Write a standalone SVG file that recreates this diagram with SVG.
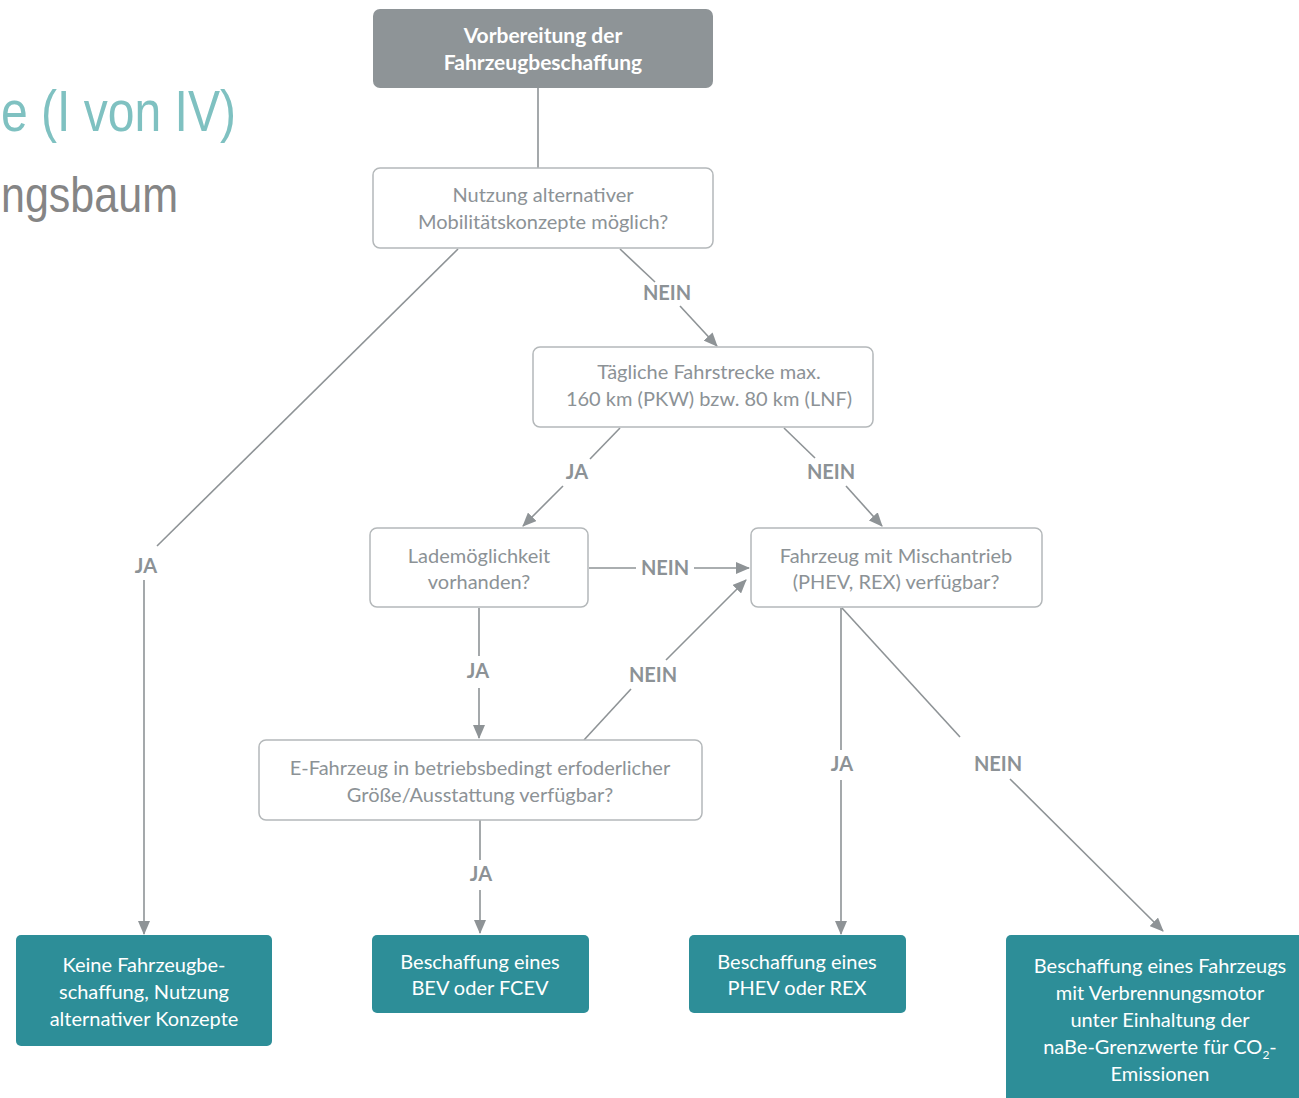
<svg xmlns="http://www.w3.org/2000/svg" width="1299" height="1098" viewBox="0 0 1299 1098">
<style>
.q rect{fill:#fff;stroke:#b4b8ba;stroke-width:1.5}
.q text{fill:#8c9296;font-family:Lato,"Open Sans",sans-serif;font-size:20px;text-anchor:middle}
.t rect{fill:#2d8e98}
.t text{fill:#fff;font-family:Lato,"Open Sans",sans-serif;font-size:20px;text-anchor:middle}
.c line,.c path{stroke:#8e9396;stroke-width:1.6;fill:none}
.c text{fill:#8c9296;font-family:Lato,"Open Sans",sans-serif;font-size:20px;font-weight:bold;text-anchor:middle}
</style>
<defs>
<marker id="a" viewBox="0 0 14 12" refX="13" refY="6" markerWidth="14" markerHeight="12" markerUnits="userSpaceOnUse" orient="auto">
<path d="M0,0 L14,6 L0,12 Z" fill="#8e9396"/>
</marker>
</defs>
<rect width="1299" height="1098" fill="#fff"/>
<g id="title">
<text x="1" y="131" font-family="'Liberation Sans',sans-serif" font-size="58" fill="#7fc1c1" textLength="235" lengthAdjust="spacingAndGlyphs">e (I von IV)</text>
<text x="1" y="212" font-family="'Liberation Sans',sans-serif" font-size="50" fill="#858585" textLength="177" lengthAdjust="spacingAndGlyphs">ngsbaum</text>
</g>
<g id="connectors" class="c">
<line x1="538" y1="88" x2="538" y2="168"/>
<line x1="458" y1="249" x2="157" y2="546"/>
<text x="146" y="573">JA</text>
<line x1="144" y1="580" x2="144" y2="934" marker-end="url(#a)"/>
<line x1="620" y1="249" x2="655" y2="282"/>
<text x="667" y="300">NEIN</text>
<line x1="680" y1="306" x2="717" y2="346" marker-end="url(#a)"/>
<line x1="620" y1="428" x2="590" y2="459"/>
<text x="577" y="479">JA</text>
<line x1="563" y1="486" x2="523" y2="526" marker-end="url(#a)"/>
<line x1="784" y1="428" x2="815" y2="458"/>
<text x="831" y="479">NEIN</text>
<line x1="846" y1="486" x2="882" y2="526" marker-end="url(#a)"/>
<line x1="589" y1="568" x2="636" y2="568"/>
<text x="665" y="575">NEIN</text>
<line x1="694" y1="568" x2="749" y2="568" marker-end="url(#a)"/>
<line x1="479" y1="608" x2="479" y2="656"/>
<text x="478" y="678">JA</text>
<line x1="479" y1="688" x2="479" y2="738" marker-end="url(#a)"/>
<line x1="584" y1="740" x2="631" y2="689"/>
<text x="653" y="682">NEIN</text>
<line x1="666" y1="660" x2="746" y2="580" marker-end="url(#a)"/>
<line x1="480" y1="820" x2="480" y2="860"/>
<text x="481" y="881">JA</text>
<line x1="480" y1="890" x2="480" y2="933" marker-end="url(#a)"/>
<line x1="841" y1="608" x2="841" y2="750"/>
<text x="842" y="771">JA</text>
<line x1="841" y1="780" x2="841" y2="934" marker-end="url(#a)"/>
<line x1="842" y1="608" x2="960" y2="737"/>
<text x="998" y="771">NEIN</text>
<line x1="1010" y1="779" x2="1163" y2="931" marker-end="url(#a)"/>
</g>
<g id="n1">
<rect x="373" y="9" width="340" height="79" rx="7" fill="#8e9497"/>
<text x="543" y="43" fill="#fff" font-family="Lato,'Open Sans',sans-serif" font-size="21" font-weight="bold" text-anchor="middle">Vorbereitung der</text>
<text x="543" y="70" fill="#fff" font-family="Lato,'Open Sans',sans-serif" font-size="21" font-weight="bold" text-anchor="middle">Fahrzeugbeschaffung</text>
</g>
<g id="n2" class="q">
<rect x="373" y="168" width="340" height="80" rx="7"/>
<text x="543" y="202">Nutzung alternativer</text>
<text x="543" y="229">Mobilitätskonzepte möglich?</text>
</g>
<g id="n3" class="q">
<rect x="533" y="347" width="340" height="80" rx="7"/>
<text x="709" y="379">Tägliche Fahrstrecke max.</text>
<text x="709" y="406">160 km (PKW) bzw. 80 km (LNF)</text>
</g>
<g id="n4" class="q">
<rect x="370" y="528" width="218" height="79" rx="7"/>
<text x="479" y="563">Lademöglichkeit</text>
<text x="479" y="589">vorhanden?</text>
</g>
<g id="n5" class="q">
<rect x="751" y="528" width="291" height="79" rx="7"/>
<text x="896" y="563">Fahrzeug mit Mischantrieb</text>
<text x="896" y="589">(PHEV, REX) verfügbar?</text>
</g>
<g id="n6" class="q">
<rect x="259" y="740" width="443" height="80" rx="7"/>
<text x="480" y="775">E-Fahrzeug in betriebsbedingt erfoderlicher</text>
<text x="480" y="802">Größe/Ausstattung verfügbar?</text>
</g>
<g id="n7" class="t">
<rect x="16" y="935" width="256" height="111" rx="5"/>
<text x="144" y="972">Keine Fahrzeugbe-</text>
<text x="144" y="999">schaffung, Nutzung</text>
<text x="144" y="1026">alternativer Konzepte</text>
</g>
<g id="n8" class="t">
<rect x="372" y="935" width="217" height="78" rx="5"/>
<text x="480" y="969">Beschaffung eines</text>
<text x="480" y="995">BEV oder FCEV</text>
</g>
<g id="n9" class="t">
<rect x="689" y="935" width="217" height="78" rx="5"/>
<text x="797" y="969">Beschaffung eines</text>
<text x="797" y="995">PHEV oder REX</text>
</g>
<g id="n10" class="t">
<rect x="1006" y="935" width="310" height="180" rx="5"/>
<text x="1160" y="973">Beschaffung eines Fahrzeugs</text>
<text x="1160" y="1000">mit Verbrennungsmotor</text>
<text x="1160" y="1027">unter Einhaltung der</text>
<text x="1160" y="1054">naBe-Grenzwerte für CO<tspan font-size="12" dy="5">2</tspan><tspan dy="-5">-</tspan></text>
<text x="1160" y="1081">Emissionen</text>
</g>
</svg>
